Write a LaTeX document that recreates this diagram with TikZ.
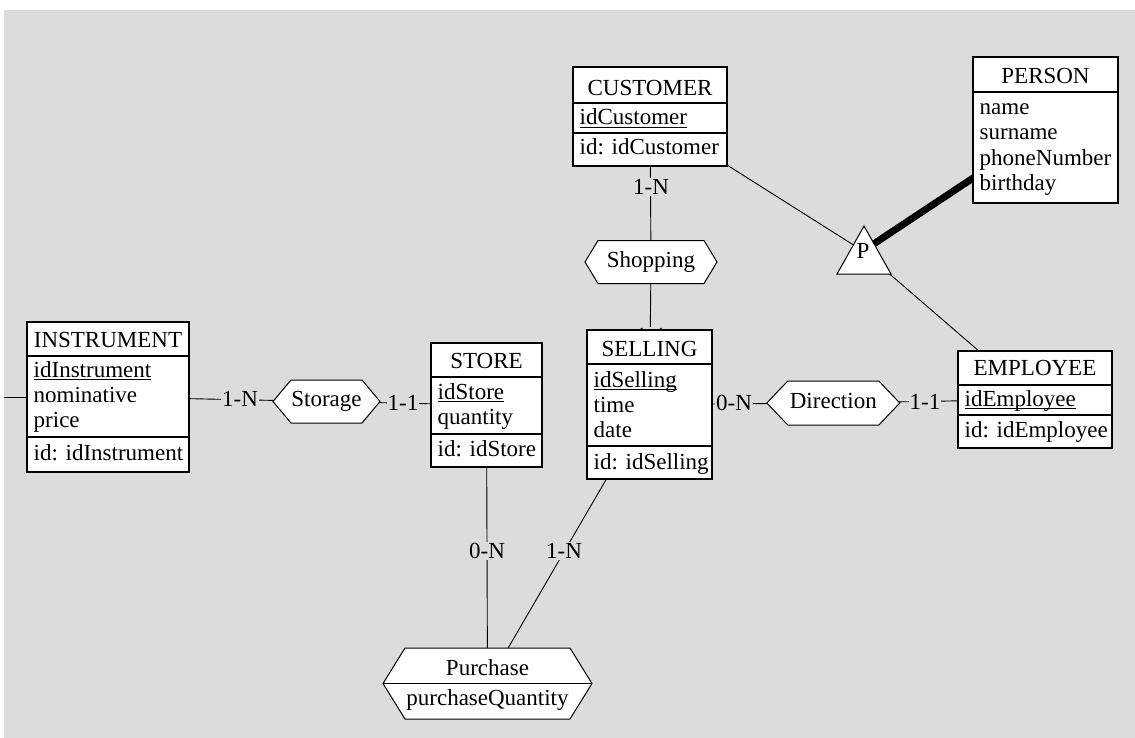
\documentclass[tikz,border=0pt]{standalone}
\usepackage{fontspec}
\setmainfont{Liberation Serif}
\usetikzlibrary{backgrounds}
\definecolor{canvasgrey}{RGB}{220,220,220}
% underlined primary-key attribute
\newsavebox\keybox
\newcommand{\keyattr}[1]{\sbox\keybox{#1}\rlap{\rule[-3pt]{\wd\keybox}{1.2pt}}\usebox\keybox}
% hexagonal outline of a relationship node: #1 node name, #2 indent of the points
\newcommand{\hexagonof}[2]{\path[hexline] (#1.west) -- ([xshift=#2]#1.north west) -- ([xshift=-#2]#1.north east) -- (#1.east) -- ([xshift=-#2]#1.south east) -- ([xshift=#2]#1.south west) -- cycle;}

\begin{document}
\begin{tikzpicture}[x=1pt, y=-1pt, font=\fontsize{23}{25}\selectfont,
  entity/.style={draw, fill=white, line width=1.3pt, inner sep=0pt, outer sep=0pt, anchor=north west},
  divider/.style={line width=1.1pt},
  etitle/.style={anchor=base, inner sep=0pt},
  attr/.style={anchor=base west, inner sep=0pt},
  relnode/.style={inner sep=0pt, outer sep=0pt, text height=16pt, text depth=6pt},
  hexline/.style={draw, fill=white, line width=1pt},
  link/.style={line width=0.9pt},
  isalink/.style={line width=7pt},
  card/.style={fill=canvasgrey, inner sep=1pt, outer sep=0pt},
]
\useasboundingbox (0,0) rectangle (1135,738);

% ---------- entities ----------
% CUSTOMER
\node[entity, minimum width=154, minimum height=99] (cust) at (573,67) {};
\draw[divider] ([yshift=-36pt]cust.north west) -- ([yshift=-36pt]cust.north east);
\draw[divider] ([yshift=-66pt]cust.north west) -- ([yshift=-66pt]cust.north east);
\node[etitle] (cust-n) at (650,95.5) {CUSTOMER};
\node[attr] (cust-k) at (579.5,125) {\keyattr{idCustomer}};
\node[attr] (cust-i) at (579.5,155) {id: idCustomer};

% PERSON
\node[entity, minimum width=145, minimum height=146] (pers) at (973,57) {};
\draw[divider] ([yshift=-35pt]pers.north west) -- ([yshift=-35pt]pers.north east);
\node[etitle] (pers-n) at (1045.5,83.5) {PERSON};
\node[attr] (pers-a1) at (979.5,114.5) {name};
\node[attr] (pers-a2) at (979.5,140) {surname};
\node[attr] (pers-a3) at (979.5,165.5) {phoneNumber};
\node[attr] (pers-a4) at (979.5,191) {birthday};

% INSTRUMENT
\node[entity, minimum width=162, minimum height=150] (ins) at (27,322) {};
\draw[divider] ([yshift=-34pt]ins.north west) -- ([yshift=-34pt]ins.north east);
\draw[divider] ([yshift=-115pt]ins.north west) -- ([yshift=-115pt]ins.north east);
\node[etitle] (ins-n) at (108,347) {INSTRUMENT};
\node[attr] (ins-k) at (33.5,377) {\keyattr{idInstrument}};
\node[attr] (ins-a1) at (33.5,402) {nominative};
\node[attr] (ins-a2) at (33.5,427) {price};
\node[attr] (ins-i) at (33.5,460) {id: idInstrument};

% STORE
\node[entity, minimum width=111, minimum height=124] (store) at (431,343) {};
\draw[divider] ([yshift=-34pt]store.north west) -- ([yshift=-34pt]store.north east);
\draw[divider] ([yshift=-91pt]store.north west) -- ([yshift=-91pt]store.north east);
\node[etitle] (store-n) at (486.5,368) {STORE};
\node[attr] (store-k) at (437.5,399) {\keyattr{idStore}};
\node[attr] (store-a1) at (437.5,424) {quantity};
\node[attr] (store-i) at (437.5,456) {id: idStore};

% SELLING
\node[entity, minimum width=125, minimum height=149] (sell) at (587,330) {};
\draw[divider] ([yshift=-34pt]sell.north west) -- ([yshift=-34pt]sell.north east);
\draw[divider] ([yshift=-116pt]sell.north west) -- ([yshift=-116pt]sell.north east);
\node[etitle] (sell-n) at (649.5,356) {SELLING};
\node[attr] (sell-k) at (593.5,387) {\keyattr{idSelling}};
\node[attr] (sell-a1) at (593.5,412) {time};
\node[attr] (sell-a2) at (593.5,437) {date};
\node[attr] (sell-i) at (593.5,469) {id: idSelling};

% EMPLOYEE
\node[entity, minimum width=154, minimum height=97] (emp) at (958,351) {};
\draw[divider] ([yshift=-34pt]emp.north west) -- ([yshift=-34pt]emp.north east);
\draw[divider] ([yshift=-64pt]emp.north west) -- ([yshift=-64pt]emp.north east);
\node[etitle] (emp-n) at (1035,375.5) {EMPLOYEE};
\node[attr] (emp-k) at (964.5,406) {\keyattr{idEmployee}};
\node[attr] (emp-i) at (964.5,437) {id: idEmployee};

% ---------- relationships ----------
\node[relnode, minimum width=132, minimum height=43] (shop) at (651,262) {Shopping};
\node[relnode, minimum width=107, minimum height=43] (sto) at (326.5,401.5) {Storage};
\node[relnode, minimum width=133, minimum height=44] (dir) at (833.3,403) {Direction};
\node[relnode, minimum width=209, minimum height=71] (pur) at (487.5,683.5) {};
\draw[link] (pur.west) -- (pur.east);
\node[etitle] (pur-n) at (487.5,675) {Purchase};
\node[etitle] (pur-a) at (487.5,705) {purchaseQuantity};

% is-a junction
\node[inner sep=0pt] (isa) at (863,251) {P};

\begin{scope}[on background layer]
  % canvas
  \fill[white] (0,0) rectangle (1135,738);
  \fill[canvasgrey] (4,10) rectangle (1135,738);

  % connectors
  \coordinate (stub) at (4,397);
  \draw[link] (ins) -- (stub);
  \draw[link] (ins) -- (sto.center);
  \draw[link] (store) -- (sto.center);
  \draw[link] (store) -- (pur.center);
  \draw[link] (sell) -- (pur.center);
  \draw[link] (sell) -- (shop.center);
  \draw[link] (cust) -- (shop.center);
  \draw[link] (sell) -- (dir.center);
  \draw[link] (emp) -- (dir.center);
  \draw[link] (cust) -- (isa.center);
  \draw[link] (emp) -- (isa.center);
  \draw[isalink] (pers.center) -- (isa.center);

  % cardinalities
  \node[card] (k1) at (240,399) {1-N};
  \node[card] (k2) at (403,403) {1-1};
  \node[card] (k3) at (651,187) {1-N};
  \node[card] (k4) at (651,336) {1-1};
  \node[card] (k5) at (734,402.5) {0-N};
  \node[card] (k6) at (925,402) {1-1};
  \node[card] (k7) at (487,551) {0-N};
  \node[card] (k8) at (564,551) {1-N};

  % relationship outlines
  \hexagonof{shop}{13}
  \hexagonof{sto}{18}
  \hexagonof{dir}{21}
  \hexagonof{pur}{22}

  % is-a triangle
  \filldraw[fill=white, line width=1pt] (864,226) -- (891,274) -- (837,274) -- cycle;
\end{scope}
\end{tikzpicture}
\end{document}
